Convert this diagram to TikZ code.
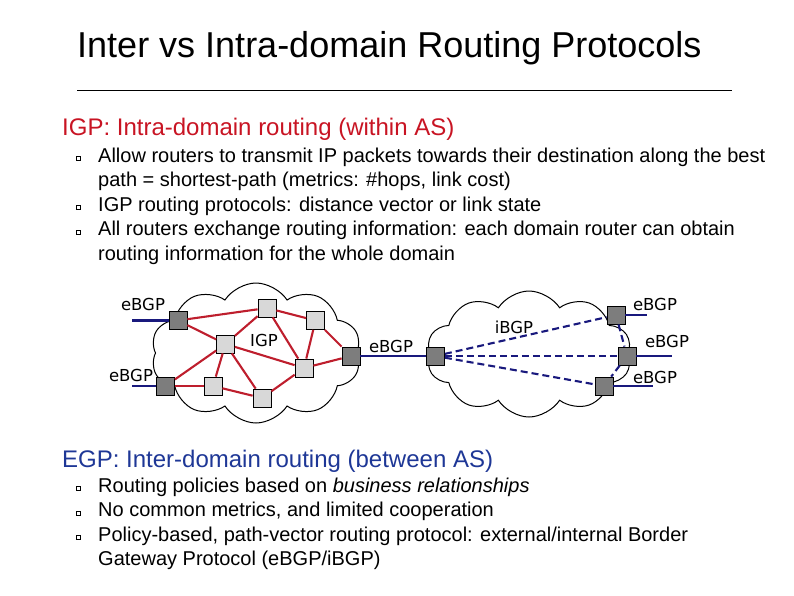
\documentclass[tikz,border=0pt]{standalone}
\usepackage{fontspec}
\setmainfont{Liberation Sans}
\newfontfamily\dejavu{DejaVu Sans}
\usetikzlibrary{shapes.symbols}
\definecolor{igpred}{RGB}{200,20,35}
\definecolor{egpblue}{RGB}{30,55,150}
\definecolor{linkred}{RGB}{190,30,45}
\definecolor{linkblue}{RGB}{25,25,125}
\definecolor{gwgray}{RGB}{125,125,125}
\definecolor{rtgray}{RGB}{216,216,216}

\begin{document}
\begin{tikzpicture}[x=1pt,y=-1pt,
    rt/.style={draw,line width=0.8pt,fill=rtgray,minimum size=18pt,inner sep=0pt},
    gw/.style={rt,fill=gwgray},
    as/.style={cloud,draw,cloud puffs=10,cloud puff arc=115,inner sep=0pt,line width=1pt},
    igp/.style={line width=2.1pt,linkred},
    ebgp/.style={line width=2.1pt,linkblue},
    ibgp/.style={ebgp,dash pattern=on 7pt off 4pt},
    lbl/.style={font=\dejavu\fontsize{16.5}{19}\selectfont,anchor=base,inner sep=0pt},
    txt/.style={anchor=base west,inner sep=0pt,font=\fontsize{20}{24}\selectfont},
    hd/.style={anchor=base west,inner sep=0pt,font=\fontsize{24}{29}\selectfont}]
  \useasboundingbox (0,0) rectangle (794,595);

  \node[anchor=base west,inner sep=0pt,font=\fontsize{36}{43}\selectfont] (title) at (77,57)
    {Inter vs Intra-domain Routing Protocols};
  \draw[line width=0.8pt] (77,90) -- (732,90);

  % intra-domain
  \node[hd,text=igpred] (igphd) at (62,135) {IGP: Intra-domain routing (within AS)};
  \node[txt] (i1) at (98,162) {Allow routers to transmit IP packets towards their destination along the best};
  \node[txt] (i1b) at (98,186.5) {path = shortest-path (metrics: \#hops, link cost)};
  \node[txt] (i2) at (98,211) {IGP routing protocols: distance vector or link state};
  \node[txt] (i3) at (98,235.5) {All routers exchange routing information: each domain router can obtain};
  \node[txt] (i3b) at (98,260) {routing information for the whole domain};

  % inter-domain
  \node[hd,text=egpblue] (egphd) at (62,467) {EGP: Inter-domain routing (between AS)};
  \node[txt] (e1) at (98,492) {Routing policies based on \textit{business relationships}};
  \node[txt] (e2) at (98,516.5) {No common metrics, and limited cooperation};
  \node[txt] (e3) at (98,541) {Policy-based, path-vector routing protocol: external/internal Border};
  \node[txt] (e3b) at (98,565.5) {Gateway Protocol (eBGP/iBGP)};

  \foreach \y in {162,211,235.5,492,516.5,541}
    \draw[line width=0.6pt] (76,\y-5.5) rectangle (80,\y-1.5);

  % the two AS
  \node[as,minimum width=210pt,minimum height=140pt] (lcloud) at (256,353) {};
  \node[as,minimum width=205pt,minimum height=126pt] (rcloud) at (529,354) {};

  \node[gw] (a1) at (178,320.5) {};
  \node[gw] (a2) at (165.5,386) {};
  \node[gw] (a3) at (351,356) {};
  \node[rt] (r1) at (267,308) {};
  \node[rt] (r2) at (315.5,320.5) {};
  \node[rt] (r3) at (225.5,344) {};
  \node[rt] (r4) at (304,368) {};
  \node[rt] (r5) at (213,386) {};
  \node[rt] (r6) at (262,398) {};
  \foreach \u/\v in {a1/r1,a1/r3,r1/r3,r1/r2,r1/r4,r2/r4,r2/a3,r3/r4,
                     r3/a2,r3/r5,r3/r6,a2/r5,r5/r6,r6/r4,r4/a3}
    \draw[igp] (\u) -- (\v);

  \node[gw] (b1) at (435.5,356) {};
  \node[gw] (b2) at (616,315) {};
  \node[gw] (b3) at (627,356) {};
  \node[gw] (b4) at (604,386) {};
  \foreach \u/\v in {b1/b2,b1/b3,b1/b4,b2/b3,b3/b4}
    \draw[ibgp] (\u) -- (\v);

  \coordinate (x1) at (132,320.5);
  \coordinate (x2) at (132,386);
  \coordinate (x3) at (647,315);
  \coordinate (x4) at (672,356);
  \coordinate (x5) at (653,386);
  \draw[ebgp] (x1) -- (a1);
  \draw[ebgp] (x2) -- (a2);
  \draw[ebgp] (a3) -- (b1);
  \draw[ebgp] (b2) -- (x3);
  \draw[ebgp] (b3) -- (x4);
  \draw[ebgp] (b4) -- (x5);

  \node[lbl] (l1) at (143,310) {eBGP};
  \node[lbl] (l2) at (131,381) {eBGP};
  \node[lbl] (l3) at (264,346) {IGP};
  \node[lbl] (l4) at (391,352) {eBGP};
  \node[lbl] (l5) at (514,333) {iBGP};
  \node[lbl] (l6) at (655,310) {eBGP};
  \node[lbl] (l7) at (667,347) {eBGP};
  \node[lbl] (l8) at (655,383) {eBGP};
\end{tikzpicture}
\end{document}
